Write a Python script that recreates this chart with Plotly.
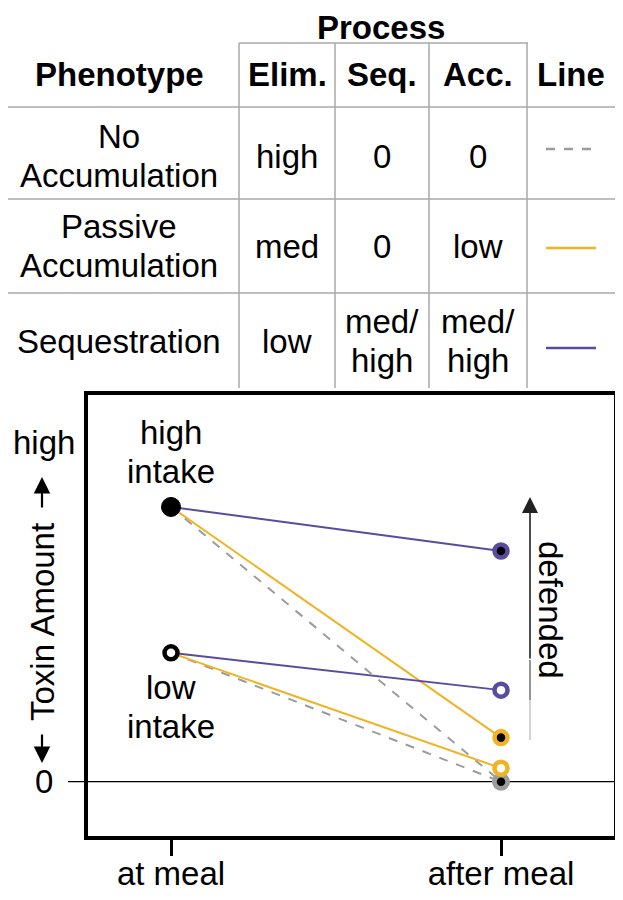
import plotly.graph_objects as go

# ---------------- data ----------------
phenotypes = ["No<br>Accumulation", "Passive<br>Accumulation", "Sequestration"]
elim = ["high", "med", "low"]
seq = ["0", "0", "med/<br>high"]
acc = ["0", "low", "med/<br>high"]
header = ["Phenotype", "Elim.", "Seq.", "Acc.", "Line"]

time_labels = ["at meal", "after meal"]
time_x = [0, 1]

intake_at_meal = {"high": 8.1, "low": 3.8}
after_meal = {
    "none":    {"high": 0.0, "low": 0.0},
    "passive": {"high": 1.3, "low": 0.4},
    "seq":     {"high": 6.8, "low": 2.7},
}
line_colors = {"none": "#9c9c9c", "passive": "#F0B323", "seq": "#5B4B9E"}
line_dash = {"none": "dash", "passive": "solid", "seq": "solid"}
y_ticks = [0, 10]
y_ticktext = ["0", "high"]

FONT = "Liberation Sans, Arial, sans-serif"
FS = 33
LH = 39

# page geometry in page pixels (html body adds an 8px offset)
OFF = 8
PW, PH = 623, 900
L, R, T, B = 88, 614, 395, 836
W, H = PW - 2 * OFF, PH - 2 * OFF


def px(x):
    return (x - L) / (R - L)


def py(y):
    return (B - y) / (B - T)


fig = go.Figure()

for ph in ["none", "passive", "seq"]:
    for it in ["high", "low"]:
        fig.add_trace(go.Scatter(
            x=time_x, y=[intake_at_meal[it], after_meal[ph][it]],
            mode="lines",
            line=dict(color=line_colors[ph], width=2, dash=line_dash[ph]),
            showlegend=False, hoverinfo="skip"))

for ph in ["none", "passive", "seq"]:
    for it in ["low", "high"]:
        fig.add_trace(go.Scatter(
            x=[time_x[1]], y=[after_meal[ph][it]], mode="markers",
            marker=dict(size=13, color="black" if it == "high" else "white",
                        line=dict(color=line_colors[ph], width=4.5)),
            showlegend=False, hoverinfo="skip"))

fig.add_trace(go.Scatter(
    x=[time_x[0]], y=[intake_at_meal["high"]], mode="markers",
    marker=dict(size=19, color="black", line=dict(color="black", width=1)),
    showlegend=False, hoverinfo="skip"))
fig.add_trace(go.Scatter(
    x=[time_x[0]], y=[intake_at_meal["low"]], mode="markers",
    marker=dict(size=13, color="white", line=dict(color="black", width=4.5)),
    showlegend=False, hoverinfo="skip"))

shapes = []
annotations = []

# zero line extending out of the box
shapes.append(dict(type="line", xref="paper", yref="y", x0=px(68), x1=1,
                   y0=0, y1=0, line=dict(color="black", width=1.3), layer="below"))

# ---------------- table ----------------
GRID = "#a8a8a8"
shapes.append(dict(type="line", xref="paper", yref="paper", x0=px(239), x1=px(528),
                   y0=py(43), y1=py(43), line=dict(color=GRID, width=1.5)))
for xv in [239, 335, 429, 527]:
    shapes.append(dict(type="line", xref="paper", yref="paper", x0=px(xv), x1=px(xv),
                       y0=py(43), y1=py(388), line=dict(color=GRID, width=1.5)))
for yv in [107, 199, 293]:
    shapes.append(dict(type="line", xref="paper", yref="paper", x0=px(8), x1=px(615),
                       y0=py(yv), y1=py(yv), line=dict(color=GRID, width=1.5)))


def txt(x, y, s, bold=False, size=FS, angle=0):
    lines = s.split("<br>")
    n = len(lines)
    for k, ln in enumerate(lines):
        yy = y + (k - (n - 1) / 2) * LH
        annotations.append(dict(
            xref="paper", yref="paper", x=px(x), y=py(yy),
            text=f"<b>{ln}</b>" if bold else ln,
            showarrow=False, xanchor="center", yanchor="middle", textangle=angle,
            font=dict(family=FONT, size=size, color="black")))


def arrow(x, y_head, y_tail, width, size, color="black"):
    annotations.append(dict(xref="paper", yref="paper", x=px(x), y=py(y_head),
                            ax=0, ay=y_tail - y_head, axref="pixel", ayref="pixel",
                            text="", showarrow=True, arrowhead=2, arrowsize=size,
                            arrowwidth=width, arrowcolor=color, standoff=0))


txt(381, 27, "Process", bold=True)
col_x = [119, 287, 382, 478, 571]
for cx, h in zip(col_x, header):
    txt(cx, 74, h, bold=True)
row_y = [156, 246, 341]
for i, ry in enumerate(row_y):
    txt(col_x[0], ry, phenotypes[i])
    txt(col_x[1], ry, elim[i])
    txt(col_x[2], ry, seq[i])
    txt(col_x[3], ry, acc[i])

for ph, ly in zip(["none", "passive", "seq"], [149, 248, 348]):
    shapes.append(dict(type="line", xref="paper", yref="paper", x0=px(546), x1=px(596),
                       y0=py(ly), y1=py(ly),
                       line=dict(color=line_colors[ph], width=2.5, dash=line_dash[ph])))

# ---------------- plot annotations ----------------
for yv, t in zip(y_ticks, y_ticktext):
    annotations.append(dict(xref="paper", yref="y", x=px(44), y=yv, text=t,
                            showarrow=False, xanchor="center", yanchor="middle",
                            font=dict(family=FONT, size=FS, color="black")))

# y-axis title with arrows
txt(42, 622, "Toxin Amount", angle=-90)
arrow(42, 477, 509, 2.2, 1.5)
arrow(42, 763, 733, 2.2, 1.5)

txt(551, 610, "defended", angle=90)
txt(171, 452, "high<br>intake")
txt(171, 707, "low<br>intake")

# defended arrow, fading toward the bottom
shapes.append(dict(type="line", xref="paper", yref="paper", x0=px(530), x1=px(530),
                   y0=py(740), y1=py(700), line=dict(color="#c8c8c8", width=1.6)))
shapes.append(dict(type="line", xref="paper", yref="paper", x0=px(530), x1=px(530),
                   y0=py(700), y1=py(660), line=dict(color="#7a7a7a", width=1.6)))
arrow(530, 497, 660, 1.6, 2.0, color="#222")

fig.update_layout(
    width=W, height=H,
    margin=dict(l=L - OFF, r=(OFF + W) - R, t=T - OFF, b=(OFF + H) - B, pad=0),
    plot_bgcolor="white", paper_bgcolor="white",
    shapes=shapes, annotations=annotations,
    font=dict(family=FONT, size=FS, color="black"),
    xaxis=dict(range=[(L - 171) / 330, (R - 171) / 330], tickvals=time_x,
               ticktext=time_labels, ticks="outside", ticklen=16, tickwidth=2.5,
               tickcolor="black", showline=True, linecolor="black", linewidth=3.5,
               mirror=True, showgrid=False, zeroline=False, automargin=False,
               ticklabelstandoff=-10,
               tickfont=dict(family=FONT, size=FS)),
    yaxis=dict(range=[-1.6, 11.4], showticklabels=False, ticks="", showline=True,
               linecolor="black", linewidth=3.5, mirror=True, showgrid=False,
               zeroline=False, automargin=False),
)

fig.write_html("out.html")
